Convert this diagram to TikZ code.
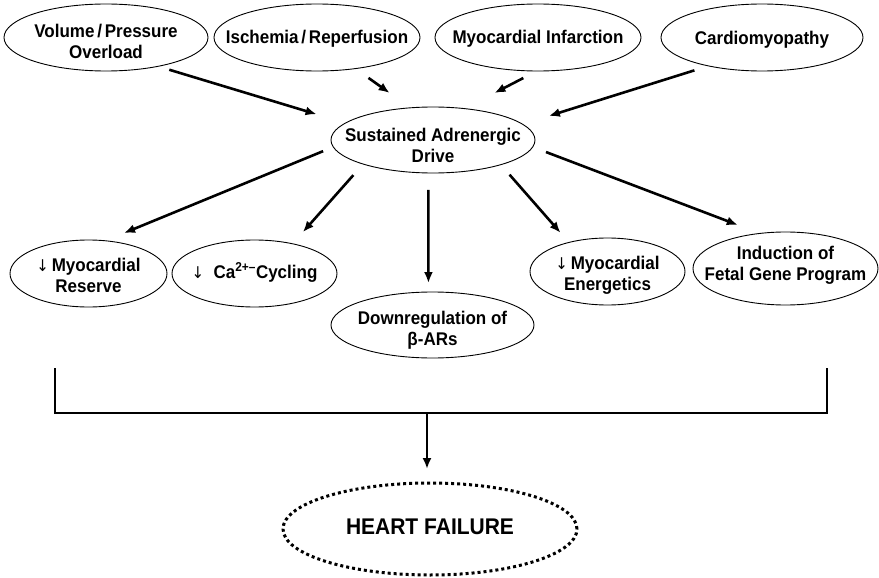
\documentclass[tikz,border=0pt]{standalone}
\usepackage{graphicx}
\usepackage{fontspec}
\setmainfont{Liberation Sans}
\newfontfamily\arrfont{DejaVu Sans}
\usetikzlibrary{arrows.meta,shapes.geometric}
\newcommand\eltext[2][0pt]{\makebox[0pt]{\raisebox{-#1}[\height][\depth]{\scalebox{1}[1.08]{\begin{tabular}{@{}c@{}}#2\end{tabular}}}}}
\newcommand\dn{{\arrfont\mdseries\fontsize{15}{15}\selectfont ↓}}
\begin{document}
\begin{tikzpicture}[x=1pt,y=-1pt,
  el/.style={draw, ellipse, line width=0.9pt, inner sep=0pt, outer sep=0pt,
    font=\bfseries\fontsize{17}{19.4}\selectfont},
  hfel/.style={draw, ellipse, line width=3pt, dash pattern=on 3pt off 3pt,
    inner sep=0pt, outer sep=0pt, font=\bfseries\fontsize{21}{25}\selectfont},
  arr/.style={line width=2.6pt, -{Latex[length=11pt,width=9pt]}},
  brk/.style={line width=2.6pt}]
\useasboundingbox (0,0) rectangle (879,578);
% top row
\node[el, minimum width=204pt, minimum height=67pt] (vol) at (106,37.5) {\eltext[6pt]{Volume\,/\,Pressure\\Overload}};
\node[el, minimum width=206pt, minimum height=67pt] (isc) at (317,37.5) {\eltext[2pt]{Ischemia\,/\,Reperfusion}};
\node[el, minimum width=206pt, minimum height=67pt] (mi) at (538,37.5) {\eltext[2pt]{Myocardial Infarction}};
\node[el, minimum width=202pt, minimum height=67pt] (card) at (762,37.5) {\eltext[3pt]{Cardiomyopathy}};
% centre
\node[el, minimum width=204pt, minimum height=66pt] (sad) at (433,140) {\eltext[7.5pt]{Sustained Adrenergic\\Drive}};
% bottom row
\node[el, minimum width=157pt, minimum height=67pt] (res) at (88.5,273.5) {\eltext[4.5pt]{\dn\,Myocardial\\Reserve}};
\node[el, minimum width=165pt, minimum height=67pt] (ca) at (254.5,273.5) {\eltext[0pt]{\dn\ \ Ca\textsuperscript{2+--}Cycling}};
\node[el, minimum width=203pt, minimum height=66pt] (down) at (432.5,325) {\eltext[6pt]{Downregulation of\\β-ARs}};
\node[el, minimum width=155pt, minimum height=67pt] (ene) at (607.5,271.5) {\eltext[4pt]{\dn\,Myocardial\\Energetics}};
\node[el, minimum width=185pt, minimum height=73pt] (fet) at (785.5,268.5) {\eltext[-3pt]{Induction of\\Fetal Gene Program}};
% heart failure
\node[hfel, minimum width=294pt, minimum height=92pt] (hf) at (430,529) {\eltext[0pt]{HEART FAILURE}};
% arrows into centre
\draw[arr, shorten <=11.8pt, shorten >=30.3pt] (vol.-29.8) -- (sad.169.7);
\draw[arr, shorten <=16.1pt, shorten >=25.6pt] (isc.-39.4) -- (sad.125.9);
\draw[arr, shorten <=15.2pt, shorten >=33.9pt] (mi.-92.6) -- (sad.45.5);
\draw[arr, shorten <=14.8pt, shorten >=27.6pt] (card.-152.9) -- (sad.10.9);
% arrows out of centre
\draw[arr, shorten <=11pt, shorten >=20.4pt] (sad.-176.1) -- (res.63.1);
\draw[arr, shorten <=14.8pt, shorten >=15.6pt] (sad.-161.1) -- (ca.38.9);
\draw[arr, shorten <=17pt, shorten >=9pt] (sad.-98.6) -- (down.97.8);
\draw[arr, shorten <=13.3pt, shorten >=12.8pt] (sad.-20.8) -- (ene.143.4);
\draw[arr, shorten <=14.2pt, shorten >=23.8pt] (sad.-4) -- (fet.126.9);
% bracket
\coordinate (bl) at (55,368);
\coordinate (blb) at (55,413);
\coordinate (brb) at (827,413);
\coordinate (br) at (827,368);
\coordinate (bm) at (427,413);
\draw[brk] (bl) -- (blb) -- (brb) -- (br);
\draw[arr, shorten >=14pt] (bm) -- (bm |- hf.north);
\end{tikzpicture}
\end{document}
